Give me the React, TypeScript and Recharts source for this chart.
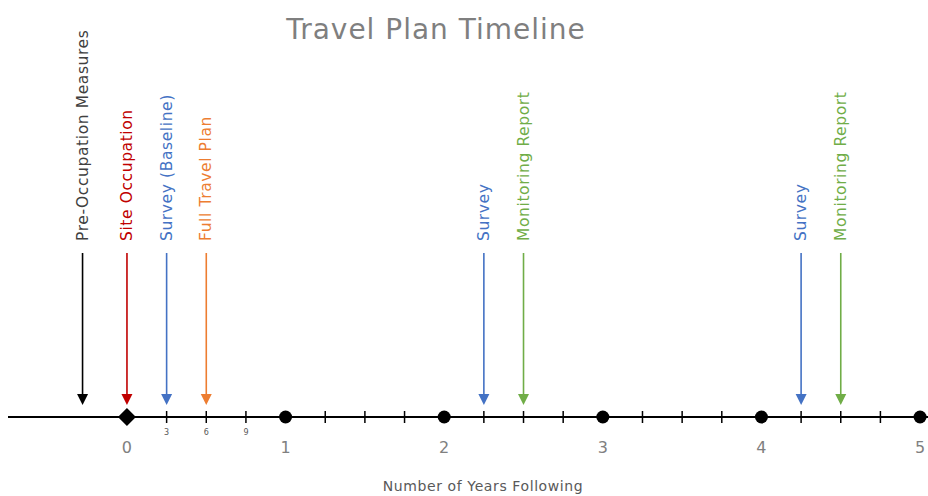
import { ComposedChart, ReferenceLine, Scatter, XAxis, YAxis } from "recharts";

// timeline events (years after occupation)
const eventLabels = [
  "Pre-Occupation Measures",
  "Site Occupation",
  "Survey (Baseline)",
  "Full Travel Plan",
  "Survey",
  "Monitoring Report",
  "Survey",
  "Monitoring Report",
];
const eventYears = [-0.28, 0, 0.25, 0.5, 2.25, 2.5, 4.25, 4.5];

const yearTicks = [0, 1, 2, 3, 4, 5];
const quarterTicks = [
  0.25, 0.5, 0.75, 1.25, 1.5, 1.75, 2.25, 2.5, 2.75, 3.25, 3.5, 3.75, 4.25, 4.5, 4.75,
];
const monthLabels = ["3", "6", "9"];

const EVENT_COLORS: Record<string, { line: string; text: string }> = {
  "Pre-Occupation Measures": { line: "#000000", text: "#404040" },
  "Site Occupation": { line: "#c00000", text: "#c00000" },
  "Survey (Baseline)": { line: "#4472c4", text: "#4472c4" },
  "Full Travel Plan": { line: "#ed7d31", text: "#ed7d31" },
  Survey: { line: "#4472c4", text: "#4472c4" },
  "Monitoring Report": { line: "#70ad47", text: "#70ad47" },
};

const ARROW_TOP = 41;
const ARROW_TIP = 3;

const yearPoints = yearTicks.map((x) => ({ x, y: 0 }));
const quarterPoints = quarterTicks.map((x, i) => ({ x, y: 0, month: monthLabels[i] }));

function Arrow(props: any) {
  const { x1, y1, x2, y2, label } = props;
  const c = EVENT_COLORS[label];
  const ty = y1 - 12;
  return (
    <g>
      <line x1={x1} y1={y1} x2={x2} y2={y2 - 10} stroke={c.line} strokeWidth={1.6} />
      <polygon points={`${x2 - 5.5},${y2 - 11} ${x2 + 5.5},${y2 - 11} ${x2},${y2}`} fill={c.line} />
      <text
        x={x1}
        y={ty}
        transform={`rotate(-90 ${x1} ${ty})`}
        textAnchor="start"
        dominantBaseline="central"
        fill={c.text}
        fontSize={15.5}
        letterSpacing={0.6}
      >
        {label}
      </text>
    </g>
  );
}

function QuarterTick(props: any) {
  const { cx, cy, payload } = props;
  return (
    <g>
      <line x1={cx} y1={cy - 6} x2={cx} y2={cy + 6} stroke="#000" strokeWidth={1.5} />
      {payload.month && (
        <text x={cx} y={cy + 15} textAnchor="middle" dominantBaseline="central" fontSize={8} fill="#595959">
          {payload.month}
        </text>
      )}
    </g>
  );
}

function YearMarker(props: any) {
  const { cx, cy, payload } = props;
  if (payload.x === 0) {
    return <polygon points={`${cx - 9},${cy} ${cx},${cy - 9} ${cx + 9},${cy} ${cx},${cy + 9}`} fill="#000" />;
  }
  return <circle cx={cx} cy={cy} r={6.5} fill="#000" />;
}

export default function App() {
  return (
    <div
      style={{
        position: "absolute",
        left: 0,
        top: 0,
        width: 928,
        height: 496,
        background: "#fff",
        fontFamily: "'DejaVu Sans', sans-serif",
      }}
    >
      <div
        style={{
          position: "absolute",
          left: 0,
          top: 13,
          width: 872,
          textAlign: "center",
          fontSize: 28,
          letterSpacing: 1,
          lineHeight: "34px",
          color: "#7f7f7f",
        }}
      >
        Travel Plan Timeline
      </div>
      <ComposedChart width={928} height={496} margin={{ top: 17, right: 0, bottom: 0, left: 8 }}>
        <XAxis
          dataKey="x"
          type="number"
          domain={[-0.75, 5.05]}
          allowDataOverflow
          ticks={yearTicks}
          height={79}
          axisLine={{ stroke: "#000", strokeWidth: 2 }}
          tickLine={false}
          tickSize={6}
          tickMargin={19}
          tick={{ fill: "#808080", fontSize: 16 }}
          label={{
            value: "Number of Years Following",
            position: "insideBottom",
            offset: 5,
            dx: 15,
            fill: "#595959",
            fontSize: 14,
            letterSpacing: 0.6,
          }}
        />
        <YAxis dataKey="y" type="number" domain={[0, 100]} hide />
        {eventYears.map((yr, i) => (
          <ReferenceLine
            key={i}
            segment={[
              { x: yr, y: ARROW_TOP },
              { x: yr, y: ARROW_TIP },
            ]}
            shape={(p: any) => <Arrow {...p} label={eventLabels[i]} />}
          />
        ))}
        <Scatter data={quarterPoints} shape={QuarterTick} isAnimationActive={false} />
        <Scatter data={yearPoints} shape={YearMarker} isAnimationActive={false} />
      </ComposedChart>
    </div>
  );
}
